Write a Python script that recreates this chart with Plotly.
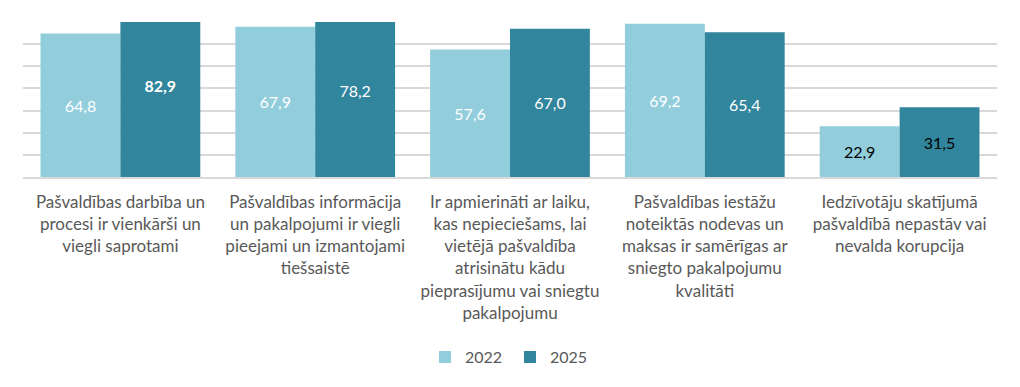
import plotly.graph_objects as go

categories = [
    "Pašvaldības darbība un<br>procesi ir vienkārši un<br>viegli saprotami",
    "Pašvaldības informācija<br>un pakalpojumi ir viegli<br>pieejami un izmantojami<br>tiešsaistē",
    "Ir apmierināti ar laiku,<br>kas nepieciešams, lai<br>vietējā pašvaldība<br>atrisinātu kādu<br>pieprasījumu vai sniegtu<br>pakalpojumu",
    "Pašvaldības iestāžu<br>noteiktās nodevas un<br>maksas ir samērīgas ar<br>sniegto pakalpojumu<br>kvalitāti",
    "Iedzīvotāju skatījumā<br>pašvaldībā nepastāv vai<br>nevalda korupcija",
]
values_2022 = [64.8, 67.9, 57.6, 69.2, 22.9]
values_2025 = [82.9, 78.2, 67.0, 65.4, 31.5]
label_colors_2022 = ["white", "white", "white", "white", "black"]
label_colors_2025 = ["white", "white", "white", "white", "black"]
bold_2025 = [True, False, False, False, False]

def fmt(v, bold=False):
    s = f"{v:.1f}".replace(".", ",")
    return f"<b>{s}</b>" if bold else s

FONT = "Lato, 'Open Sans', sans-serif"

fig = go.Figure()
fig.add_trace(go.Bar(
    name="2022", x=categories, y=values_2022,
    text=[fmt(v) for v in values_2022],
    textposition="inside", insidetextanchor="middle",
    textfont=dict(family=FONT, size=16, color=label_colors_2022),
    marker=dict(color="#92CDDC", line=dict(width=0)),
    cliponaxis=True, constraintext="none",
))
fig.add_trace(go.Bar(
    name="2025", x=categories, y=values_2025,
    text=[fmt(v, b) for v, b in zip(values_2025, bold_2025)],
    textposition="inside", insidetextanchor="middle",
    textfont=dict(family=FONT, size=16, color=label_colors_2025),
    marker=dict(color="#31859C", line=dict(width=0)),
    cliponaxis=True, constraintext="none",
))

# Page body keeps its default 8px margin, so the figure is 16px smaller than the window.
fig.update_layout(
    width=1004, height=371,
    margin=dict(l=15, r=15, t=14, b=202, autoexpand=False),
    barmode="group", bargap=0.18, bargroupgap=0,
    plot_bgcolor="white", paper_bgcolor="white",
    font=dict(family=FONT, size=17, color="#595959"),
    showlegend=True,
    legend=dict(orientation="h", x=0.5, xanchor="center",
                yref="container", y=0.059, yanchor="middle",
                font=dict(family=FONT, size=16, color="#595959"),
                itemwidth=30, entrywidth=40, traceorder="normal"),
    uniformtext=dict(mode=False),
)
fig.update_xaxes(
    showgrid=False, showline=True, linecolor="#D9D9D9", linewidth=1.5,
    ticks="", automargin=False, ticklabelstandoff=9,
    tickfont=dict(family=FONT, size=17, color="#595959"),
)
fig.update_yaxes(
    range=[0, 70], dtick=10, showgrid=True, gridcolor="#D9D9D9", gridwidth=1.5,
    showticklabels=False, zeroline=False, ticks="", automargin=False,
)

fig.write_html("out.html")
